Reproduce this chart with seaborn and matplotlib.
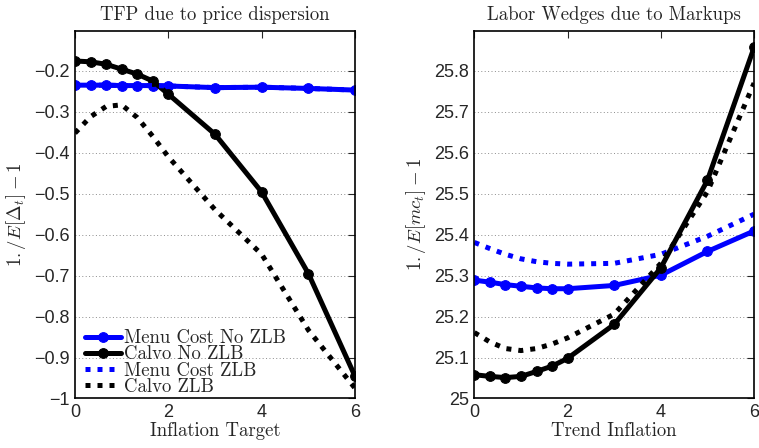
import numpy as np
import pandas as pd
import seaborn as sns
import matplotlib.pyplot as plt

# grid of inflation values (same for both panels)
infl = [0, 1/3, 2/3, 1, 4/3, 5/3, 2, 3, 4, 5, 6]

# left panel: TFP due to price dispersion
tfp_menu_nozlb = [-0.235, -0.235, -0.235, -0.236, -0.236, -0.236, -0.237, -0.241, -0.240, -0.243, -0.247]
tfp_calvo_nozlb = [-0.176, -0.178, -0.184, -0.196, -0.208, -0.225, -0.257, -0.355, -0.496, -0.695, -0.946]
tfp_menu_zlb = [-0.235, -0.235, -0.235, -0.236, -0.236, -0.236, -0.237, -0.241, -0.240, -0.243, -0.247]
tfp_calvo_zlb = [-0.352, -0.312, -0.287, -0.283, -0.314, -0.360, -0.410, -0.539, -0.648, -0.833, -0.975]

# right panel: labor wedges due to markups
mc_menu_nozlb = [25.289, 25.284, 25.278, 25.274, 25.270, 25.268, 25.268, 25.276, 25.301, 25.359, 25.409]
mc_calvo_nozlb = [25.058, 25.054, 25.051, 25.054, 25.066, 25.079, 25.098, 25.181, 25.319, 25.533, 25.857]
mc_menu_zlb = [25.381, 25.366, 25.352, 25.341, 25.334, 25.330, 25.328, 25.330, 25.352, 25.396, 25.450]
mc_calvo_zlb = [25.161, 25.138, 25.122, 25.117, 25.122, 25.133, 25.148, 25.206, 25.330, 25.505, 25.770]

labels = ['Menu Cost No ZLB', 'Calvo No ZLB', 'Menu Cost ZLB', 'Calvo ZLB']
colors = ['#0000ff', 'black', '#0000ff', 'black']

sns.set_style('white')
plt.rcParams['mathtext.fontset'] = 'cm'
plt.rcParams['axes.unicode_minus'] = True

serif = {'family': 'cmr10', 'size': 13.5}
tick_font = 'Liberation Sans'

fig = plt.figure(figsize=(7.59, 4.48), dpi=100)
ax1 = fig.add_axes([0.0988, 0.1105, 0.369, 0.821])
ax2 = fig.add_axes([0.625, 0.1105, 0.3685, 0.821])


def draw(ax, series):
    for vals, lab, col in zip(series, labels, colors):
        if 'No ZLB' in lab:
            sns.lineplot(x=infl, y=vals, ax=ax, color=col, lw=3.6, marker='o', ms=7,
                         mec=col, mfc=col, label=lab, estimator=None, sort=False,
                         errorbar=None)
        else:
            sns.lineplot(x=infl, y=vals, ax=ax, color=col, lw=3.6,
                         linestyle=(0, (1, 1.4)), label=lab, estimator=None,
                         sort=False, errorbar=None)


draw(ax1, [tfp_menu_nozlb, tfp_calvo_nozlb, tfp_menu_zlb, tfp_calvo_zlb])
draw(ax2, [mc_menu_nozlb, mc_calvo_nozlb, mc_menu_zlb, mc_calvo_zlb])

ax1.set_ylim(-1, -0.102)
ax1.set_yticks(np.arange(-1, -0.15, 0.1))
ax1.set_yticklabels(['\u22121'] + ['\u2212%.1f' % v for v in np.arange(0.9, 0.15, -0.1)])
ax2.set_ylim(25, 25.898)
ax2.set_yticks(np.arange(25, 25.85, 0.1))
ax2.set_yticklabels(['25'] + ['%.1f' % v for v in np.arange(25.1, 25.85, 0.1)])

for ax in (ax1, ax2):
    ax.set_xlim(0, 6)
    ax.set_xticks([0, 2, 4, 6])
    ax.grid(axis='y', color='0.55', linestyle=(0, (1, 2.5)), lw=0.7)
    ax.grid(axis='x', visible=False)
    ax.tick_params(direction='in', top=True, right=True, length=5, width=0.8,
                   labelsize=13, pad=4)
    for t in ax.get_xticklabels() + ax.get_yticklabels():
        t.set_fontfamily(tick_font)
    for s in ax.spines.values():
        s.set_linewidth(1.2)
        s.set_color('black')

ax1.set_title('TFP due to price dispersion', fontdict=serif, pad=8)
ax2.set_title('Labor Wedges due to Markups', fontdict=serif, pad=8)
ax1.set_xlabel('Inflation Target', fontdict=serif, labelpad=1)
ax2.set_xlabel('Trend Inflation', fontdict=serif, labelpad=1)
ax1.set_ylabel(r'$1./E[\Delta_t]-1$', fontsize=13.5, labelpad=4)
ax2.set_ylabel(r'$1./E[mc_t]-1$', fontsize=13.5, labelpad=4)

ax1.legend(loc='lower left', bbox_to_anchor=(0.036, 0.008), frameon=False,
           prop=serif, handlelength=1.9, handletextpad=0.15, labelspacing=-0.1,
           borderaxespad=0, borderpad=0)
ax2.get_legend().remove()

fig.savefig('out.png', dpi=100)
